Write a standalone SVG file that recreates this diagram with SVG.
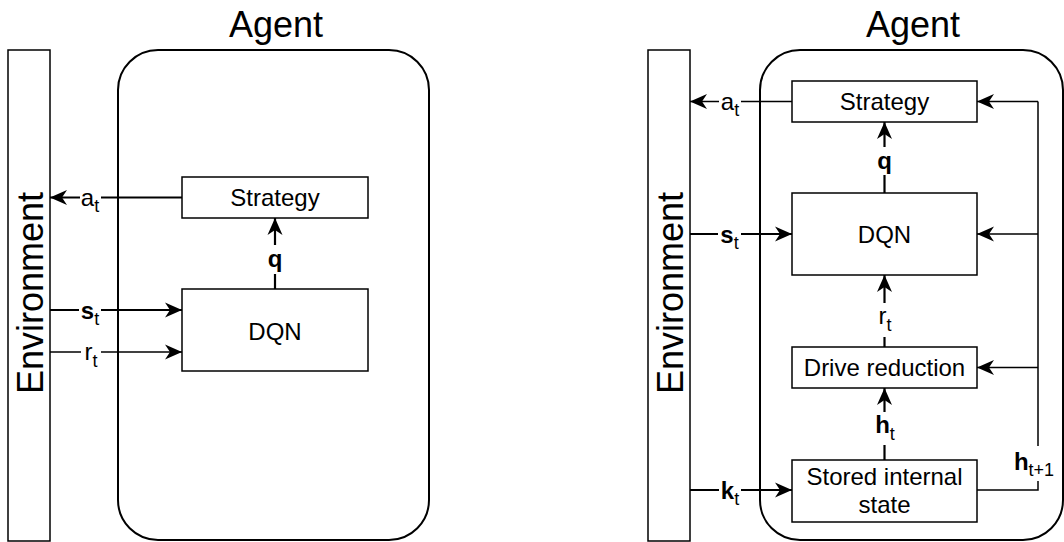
<svg xmlns="http://www.w3.org/2000/svg" width="1064" height="542" viewBox="0 0 1064 542">
<style>
  .box{fill:#fff;stroke:#000;stroke-width:1.5}
  .agent{fill:#fff;stroke:#000;stroke-width:2}
  .t{font-family:"Liberation Sans",Arial,sans-serif;font-size:24px;fill:#000;text-anchor:middle}
  .big{font-family:"Liberation Sans",Arial,sans-serif;font-size:36px;fill:#000;text-anchor:middle}
  .thick{fill:none;stroke:#000;stroke-width:2.2;marker-end:url(#ah)}
  .thin{fill:none;stroke:#000;stroke-width:1.5;marker-end:url(#ah)}
  .plain{fill:none;stroke:#000;stroke-width:1.5}
  .bg{fill:#fff;stroke:none}
  .b{font-weight:bold}
  .sub{font-size:18px;font-weight:normal}
</style>
<defs>
  <marker id="ah" markerUnits="userSpaceOnUse" viewBox="0 0 18 18" markerWidth="18" markerHeight="18" refX="17" refY="9" orient="auto">
    <path d="M17,9 L0,1.5 L5,9 L0,16.5 Z" fill="#000"/>
  </marker>
</defs>
<rect width="1064" height="542" fill="#fff"/>

<!-- Left panel -->
<g id="env-left">
  <rect class="box" x="8" y="50" width="42" height="491"/>
  <text class="big" transform="translate(43,293) rotate(-90)">Environment</text>
</g>
<g id="agent-left">
  <rect class="agent" x="118" y="50" width="311" height="490" rx="40" ry="40"/>
  <text class="big" x="276" y="37">Agent</text>
</g>
<g id="strategy-left">
  <rect class="box" x="182" y="177" width="186" height="41"/>
  <text class="t" x="275" y="206">Strategy</text>
</g>
<g id="dqn-left">
  <rect class="box" x="182" y="289" width="186" height="82"/>
  <text class="t" x="275" y="340">DQN</text>
</g>

<!-- Right panel -->
<g id="env-right">
  <rect class="box" x="648" y="50" width="42" height="491"/>
  <text class="big" transform="translate(683,293) rotate(-90)">Environment</text>
</g>
<g id="agent-right">
  <rect class="agent" x="760" y="50" width="303" height="490" rx="40" ry="40"/>
  <text class="big" x="913" y="37">Agent</text>
</g>

<g id="connectors">
  <!-- left -->
  <path class="thick" d="M182,197.5 H50"/>
  <path class="thick" d="M275,289 V218"/>
  <path class="thick" d="M50,310 H182"/>
  <path class="thin" d="M50,352 H182"/>
  <!-- right -->
  <path class="thin" d="M792,101.5 H690"/>
  <path class="thick" d="M690,234 H792"/>
  <path class="thick" d="M690,490 H792"/>
  <path class="thick" d="M884.5,193 V122"/>
  <path class="thick" d="M884.5,347 V275"/>
  <path class="thick" d="M884.5,460 V388"/>
  <path class="plain" d="M977,490 H1038 V101.5"/>
  <path class="thin" d="M1038,101.5 H977"/>
  <path class="thin" d="M1038,234 H977"/>
  <path class="thin" d="M1038,367.5 H977"/>

  <!-- labels -->
  <rect class="bg" x="80" y="188" width="21" height="24"/>
  <text class="t" x="90" y="206">a<tspan class="sub" dy="6">t</tspan></text>
  <rect class="bg" x="266" y="245" width="18" height="29"/>
  <text class="t b" x="275" y="267">q</text>
  <rect class="bg" x="79" y="300" width="22" height="24"/>
  <text class="t b" x="90" y="318.5">s<tspan class="sub" dy="6">t</tspan></text>
  <rect class="bg" x="81" y="342" width="20" height="24"/>
  <text class="t" x="91" y="359.5">r<tspan class="sub" dy="7">t</tspan></text>

  <rect class="bg" x="719" y="92" width="22" height="24"/>
  <text class="t" x="730" y="110">a<tspan class="sub" dy="6">t</tspan></text>
  <rect class="bg" x="718" y="224" width="23" height="24"/>
  <text class="t b" x="729.5" y="242.5">s<tspan class="sub" dy="6">t</tspan></text>
  <rect class="bg" x="719" y="480" width="22" height="24"/>
  <text class="t b" x="730" y="499">k<tspan class="sub" dy="6">t</tspan></text>
  <rect class="bg" x="875" y="147" width="19" height="28"/>
  <text class="t b" x="884.5" y="169">q</text>
  <rect class="bg" x="874" y="303" width="21" height="34"/>
  <text class="t" x="885" y="324">r<tspan class="sub" dy="7">t</tspan></text>
  <rect class="bg" x="872" y="412" width="25" height="33"/>
  <text class="t b" x="885" y="433">h<tspan class="sub" dy="7">t</tspan></text>
  <rect class="bg" x="1008" y="446" width="52" height="35"/>
  <text class="t b" x="1034" y="470">h<tspan class="sub" dy="6">t+1</tspan></text>
</g>

<g id="strategy-right">
  <rect class="box" x="792" y="81" width="185" height="41"/>
  <text class="t" x="884.5" y="110">Strategy</text>
</g>
<g id="dqn-right">
  <rect class="box" x="792" y="193" width="185" height="82"/>
  <text class="t" x="884.5" y="243">DQN</text>
</g>
<g id="drive-reduction">
  <rect class="box" x="792" y="347" width="185" height="41"/>
  <text class="t" x="884.5" y="376">Drive reduction</text>
</g>
<g id="stored-internal-state">
  <rect class="box" x="792" y="460" width="185" height="62"/>
  <text class="t" x="884.5" y="485">Stored internal</text>
  <text class="t" x="884.5" y="513">state</text>
</g>
</svg>
